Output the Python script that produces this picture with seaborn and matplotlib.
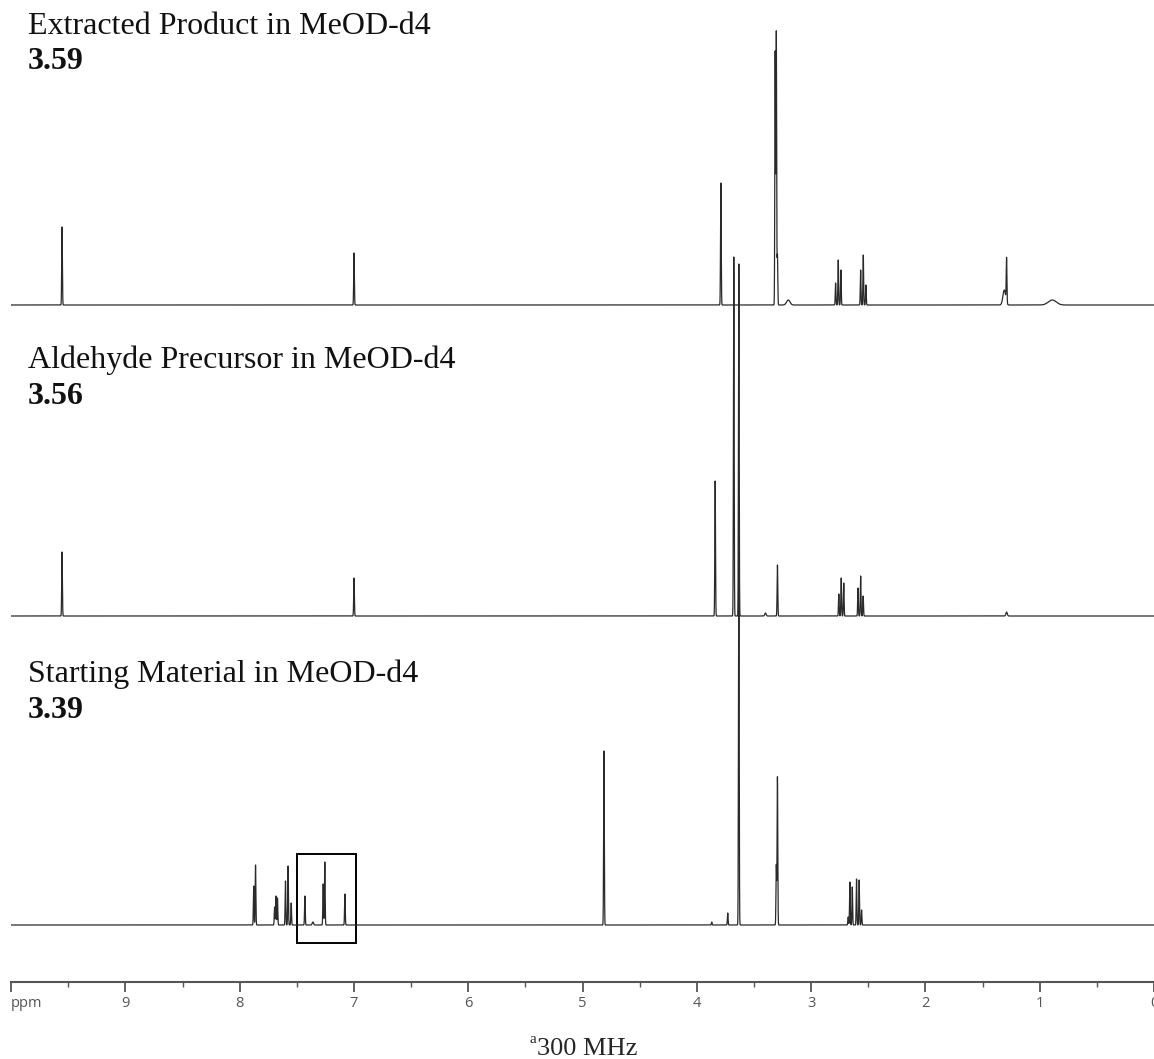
import numpy as np
import pandas as pd
import matplotlib
matplotlib.use('Agg')
import matplotlib.pyplot as plt
from matplotlib.patches import Rectangle
import seaborn as sns

# peak tables (ppm, height, gaussian width in ppm)
PRODUCT_PPM = [9.555, 7.000, 3.790, 3.315, 3.305, 3.295, 3.200, 2.786, 2.763, 2.740,
               2.567, 2.544, 2.521, 1.310, 1.290, 0.890]
PRODUCT_H = [78, 52, 122, 253, 273, 50, 5, 22, 45, 35, 35, 50, 20, 15, 44, 5]
PRODUCT_W = [0.003, 0.003, 0.003, 0.003, 0.003, 0.003, 0.015, 0.003, 0.003, 0.003,
             0.003, 0.003, 0.003, 0.012, 0.003, 0.035]

ALDEHYDE_PPM = [9.555, 7.000, 3.840, 3.677, 3.633, 3.400, 3.295, 2.758, 2.737, 2.715,
                2.590, 2.567, 2.545, 1.290]
ALDEHYDE_H = [64, 38, 135, 359, 352, 3, 51, 22, 38, 33, 28, 40, 20, 4]
ALDEHYDE_W = [0.003, 0.003, 0.003, 0.003, 0.003, 0.006, 0.003, 0.003, 0.003, 0.003,
              0.003, 0.003, 0.003, 0.006]

START_PPM = [7.878, 7.862, 7.695, 7.683, 7.670, 7.600, 7.577, 7.550, 7.430, 7.360,
             7.270, 7.256, 7.080, 4.813, 3.870, 3.730, 3.633, 3.305, 3.295,
             2.676, 2.661, 2.640, 2.603, 2.580, 2.559]
START_H = [39, 60, 18, 29, 27, 44, 59, 22, 29, 3, 41, 63, 31, 174, 3, 12, 395, 60, 148,
           8, 43, 38, 46, 45, 15]
START_W = [0.003] * 9 + [0.006] + [0.003] * 15

SPECTRA = [
    ('Extracted Product in MeOD-d4', '3.59', PRODUCT_PPM, PRODUCT_H, PRODUCT_W),
    ('Aldehyde Precursor in MeOD-d4', '3.56', ALDEHYDE_PPM, ALDEHYDE_H, ALDEHYDE_W),
    ('Starting Material in MeOD-d4', '3.39', START_PPM, START_H, START_W),
]
STACK_OFFSETS = [620, 309, 0]
BOX_PPM = (6.98, 7.50)
BOX_Y = (-18, 71)

TICKS = list(range(0, 11))
TICK_LABELS = ['0', '1', '2', '3', '4', '5', '6', '7', '8', '9', 'ppm']

W, H = 1154, 1059
LINE = '#2a2a2a'

sns.set_theme(style='white')
plt.rcParams['font.family'] = ['Liberation Serif', 'DejaVu Serif']


def build_trace(ppm, heights, widths, offset):
    grid = np.linspace(10.0, 0.0, 20001)
    y = np.full_like(grid, float(offset))
    for p, h, w in zip(ppm, heights, widths):
        y += h * np.exp(-0.5 * ((grid - p) / w) ** 2)
    return pd.DataFrame({'ppm': grid, 'intensity': y})


def px(x, y):
    return x / W, 1 - y / H


fig = plt.figure(figsize=(W / 100, H / 100), dpi=100)
ax = fig.add_axes([11.2 / W, (H - 982) / H, (W - 11.2) / W, 982 / H])

for (name, score, ppm, hts, wds), off in zip(SPECTRA, STACK_OFFSETS):
    df = build_trace(ppm, hts, wds, off)
    sns.lineplot(data=df, x='ppm', y='intensity', ax=ax, color=LINE, lw=0.9,
                 estimator=None, sort=False)

ax.add_patch(Rectangle((BOX_PPM[0], BOX_Y[0]), BOX_PPM[1] - BOX_PPM[0], BOX_Y[1] - BOX_Y[0],
                       fill=False, ec='black', lw=1.4))

ax.set_xlim(10, 0)
ax.set_ylim(-57, 925)
ax.set_xlabel('')
ax.set_ylabel('')
ax.set_yticks([])
for s in ['left', 'top', 'right']:
    ax.spines[s].set_visible(False)
ax.spines['bottom'].set_color('#555555')
ax.spines['bottom'].set_linewidth(1.5)
ax.set_xticks(TICKS)
ax.set_xticks(np.arange(0.5, 10, 1.0), minor=True)
ax.set_xticklabels(TICK_LABELS, fontfamily='Open Sans', fontsize=10.5, color='#555555')
ax.tick_params(axis='x', which='major', direction='out', length=7, width=1.3,
               color='#555555', pad=3, bottom=True)
ax.tick_params(axis='x', which='minor', direction='out', length=3.5, width=1.0,
               color='#555555', bottom=True)
ax.get_xticklabels()[-1].set_horizontalalignment('left')

label_y = [(34, 69), (368, 404), (682, 718)]
for (name, score, *_), (ly, sy) in zip(SPECTRA, label_y):
    fig.text(*px(28, ly), name, fontsize=23, va='baseline', ha='left', color='#111111')
    fig.text(*px(28, sy), score, fontsize=23, fontweight='bold', va='baseline', ha='left',
             color='#111111')

fig.text(*px(530, 1043), 'a', fontsize=11, va='baseline', ha='left')
fig.text(*px(537, 1055), '300 MHz', fontsize=19, va='baseline', ha='left')

fig.savefig('out.png', dpi=100)
